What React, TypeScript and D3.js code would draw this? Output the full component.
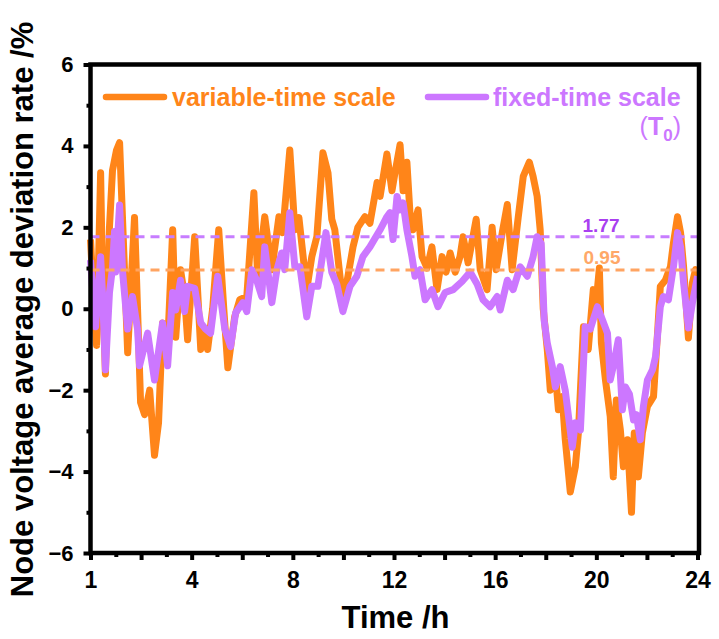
import { useRef, useEffect } from "react";
import { select, scaleLinear, line, axisBottom, axisLeft, range } from "d3";

// variable-time scale (orange), time in h from the first tick
const variableT = [
  0, 0.12, 0.24, 0.4, 0.48, 0.59, 0.75, 0.87, 1.03, 1.15, 1.31, 1.47, 1.58, 1.74, 1.86, 1.98, 2.14,
  2.34, 2.53, 2.69, 2.85, 3.05, 3.25, 3.37, 3.56, 3.72, 3.84, 4.12, 4.36, 4.51, 4.63, 4.83, 5.07,
  5.27, 5.43, 5.7, 5.9, 6.18, 6.46, 6.61, 6.89, 7.17, 7.45, 7.6, 7.88, 8.08, 8.24, 8.55, 8.75, 8.95,
  9.19, 9.39, 9.54, 9.66, 9.98, 10.18, 10.38, 10.57, 10.85, 11.05, 11.33, 11.45, 11.72, 11.92, 12.04,
  12.24, 12.36, 12.51, 12.63, 12.75, 12.95, 13.11, 13.31, 13.5, 13.7, 13.9, 14.06, 14.22, 14.42,
  14.61, 14.73, 14.93, 15.25, 15.41, 15.68, 15.88, 16.04, 16.28, 16.48, 16.67, 16.91, 17.11, 17.35,
  17.5, 17.66, 17.78, 17.9, 18.06, 18.18, 18.38, 18.5, 18.65, 18.77, 18.97, 19.17, 19.29, 19.49,
  19.68, 19.88, 20.0, 20.12, 20.2, 20.36, 20.55, 20.67, 20.79, 20.95, 21.07, 21.23, 21.39, 21.5,
  21.66, 21.82, 22.02, 22.26, 22.42, 22.53, 22.73, 22.93, 23.05, 23.21, 23.33, 23.45, 23.64, 23.8,
  23.92, 24,
];
const variableV = [
  1.7, 0.3, -0.9, 3.34, 0.5, -1.6, 2.0, 3.4, 3.9, 4.08, 1.5, -1.08, 0.3, 2.24, 0.0, -2.3, -2.6,
  -2.0, -3.6, -2.8, -0.35, -0.9, 1.94, -0.7, 0.96, 0.3, -0.76, 1.77, -1.0, -0.5, -1.0, 0.0, 1.94,
  0.0, -1.45, -0.2, 0.22, 0.3, 2.85, 0.8, 2.26, 0.96, 2.26, 1.87, 3.9, 1.94, 2.24, 0.47, 1.28, 1.77,
  3.83, 3.34, 2.2, 1.94, 0.15, 0.8, 1.52, 2.0, 2.26, 2.1, 3.1, 2.76, 3.8, 2.9, 3.34,
  4.03, 2.9, 3.6, 2.36, 1.94, 2.43, 1.28, 1.0, 1.52, 0.47, 1.28, 0.9, 1.37, 0.9,
  1.28, 1.77, 1.13, 2.2, 0.96, 0.47, 2.0, 0.96, 1.87, 2.56, 0.96, 2.24, 3.25, 3.6,
  3.25, 2.76, 1.94, 0.0, -1.0, -2.0, -1.58, -2.48, -2.16, -3.2, -4.5, -3.88, -3.05, -0.44,
  -1.0, 0.47, 0.2, 1.0, -0.84, -1.75, -2.65, -4.13, -2.24, -2.98, -3.88, -3.22, -5.0, -3.05,
  -4.13, -3.05, -2.4, -2.16, -0.6, 0.55, 0.7, 1.03, 1.62, 2.26, 1.87, 1.03, -0.72, 0.64,
  0.96, 0.55,
];

// fixed-time scale (purple)
const fixedT = [
  0, 0.08, 0.2, 0.4, 0.48, 0.59, 0.75, 0.87, 0.95, 0.99, 1.15, 1.27, 1.47, 1.66, 1.86, 1.94, 2.1,
  2.26, 2.53, 2.85, 3.05, 3.25, 3.37, 3.56, 3.72, 3.84, 4.12, 4.36, 4.55, 4.75, 5.03, 5.31, 5.54,
  5.74, 6.02, 6.18, 6.38, 6.57, 6.77, 6.89, 7.17, 7.37, 7.56, 7.68, 7.88, 8.08, 8.28, 8.55, 8.75,
  8.99, 9.31, 9.54, 9.74, 9.98, 10.26, 10.53, 10.77, 11.05, 11.45, 11.72, 11.84, 11.96, 12.12,
  12.24, 12.36, 12.51, 12.71, 12.83, 13.03, 13.23, 13.5, 13.74, 14.02, 14.34, 14.69, 15.01, 15.29,
  15.52, 15.8, 16.08, 16.2, 16.48, 16.71, 16.99, 17.27, 17.5, 17.66, 17.82, 17.94, 18.06, 18.26,
  18.38, 18.57, 18.77, 19.05, 19.17, 19.37, 19.56, 19.76, 20.04, 20.24, 20.44, 20.55, 20.67, 20.87,
  21.03, 21.15, 21.31, 21.47, 21.58, 21.74, 21.86, 22.02, 22.22, 22.34, 22.53, 22.65, 22.85, 23.05,
  23.21, 23.33, 23.45, 23.64, 23.8, 24,
];
const fixedV = [
  1.2, 0.5, -0.44, 1.28, 0.3, -1.5, 0.4, 1.0, 1.9, 0.9, 2.55, 0.9, -0.5, 0.3, -0.5, -1.4, -1.0,
  -0.6, -1.75, -0.35, -1.4, 0.4, -0.03, 0.7, -0.07, 0.55, 0.5, -0.35, -0.5, -0.6, 0.8, -0.5, -0.93,
  -0.1, 0.15, -0.07, 0.96, 0.7, 0.3, 1.52, 0.15, 0.96, 1.37, 0.96, 2.36, 1.03, 1.03, -0.2, 0.55,
  0.55, 1.87, 0.9, 0.6, -0.07, 0.55, 0.8, 1.28, 1.52, 1.94, 2.26, 2.36, 1.7, 2.76,
  2.43, 2.6, 1.94, 1.28, 0.8, 0.96, 0.22, 0.47, 0.05, 0.4, 0.47, 0.67, 0.9, 0.6,
  0.22, 0.05, 0.3, -0.03, 0.7, 0.47, 1.03, 0.8, 1.28, 1.77, 1.6, -0.3, -0.84, -1.42,
  -1.92, -1.42, -2.0, -3.4, -2.8, -2.98, -0.44, -0.5, 0.05, -0.27, -0.6, -1.75, -1.42, -0.76,
  -2.48, -1.92, -2.1, -2.73, -2.6, -3.22, -2.4, -1.75, -1.5, -1.18, 0.05, 0.3, 0.22, 1.03,
  1.87, 1.52, 0.64, -0.47, 0.15, 0.8,
];

const variableMean = 0.95;
const fixedMean = 1.77;

const xTickValues = [0, 4, 8, 12, 16, 20, 24];
const xTickLabels = ["1", "4", "8", "12", "16", "20", "24"];
const yTickValues = [-6, -4, -2, 0, 2, 4, 6];

const ORANGE = "#ff8519";
const PURPLE = "#cc77ff";
const FONT = "Arial, 'Liberation Sans', sans-serif";

const left = 90.5;
const right = 699;
const top = 64.5;
const bottom = 553;

const x = scaleLinear().domain([0, 24]).range([left, 697.5]);
const y = scaleLinear().domain([-6, 6]).range([bottom, top]);

export default function App() {
  const xMajorRef = useRef<SVGGElement>(null);
  const xMinorRef = useRef<SVGGElement>(null);
  const yMajorRef = useRef<SVGGElement>(null);
  const yMinorRef = useRef<SVGGElement>(null);

  useEffect(() => {
    const style = (g: any, size: number) => {
      g.select(".domain").remove();
      g.selectAll("line").attr("stroke", "#000").attr("stroke-width", 4);
      g.selectAll("text")
        .attr("font-size", size)
        .attr("font-weight", "bold")
        .attr("font-family", FONT)
        .attr("fill", "#000");
    };

    const xm = select(xMajorRef.current!);
    xm.call(
      axisBottom(x)
        .tickValues(range(0, 25, 2))
        .tickSize(7)
        .tickPadding(12)
        .tickFormat((d) => {
          const i = xTickValues.indexOf(+d);
          return i >= 0 ? xTickLabels[i] : "";
        }) as any
    );
    style(xm, 23);

    const xn = select(xMinorRef.current!);
    xn.call(axisBottom(x).tickValues(range(1, 24, 2)).tickSize(4).tickFormat(() => "") as any);
    style(xn, 23);

    const ym = select(yMajorRef.current!);
    ym.call(axisLeft(y).tickValues(yTickValues).tickSize(7).tickPadding(10) as any);
    style(ym, 22);

    const yn = select(yMinorRef.current!);
    yn.call(axisLeft(y).tickValues(range(-5, 6, 2)).tickSize(4).tickFormat(() => "") as any);
    style(yn, 22);
  }, []);

  const variableLine = line<number>()
    .x((_, i) => x(variableT[i]))
    .y((d) => y(d))(variableV);
  const fixedLine = line<number>()
    .x((_, i) => x(fixedT[i]))
    .y((d) => y(d))(fixedV);

  return (
    <svg
      width={719}
      height={639}
      style={{ position: "absolute", left: 0, top: 0, background: "#fff" }}
      fontFamily={FONT}
    >
      <path d={variableLine ?? ""} fill="none" stroke={ORANGE} strokeWidth={7} strokeLinejoin="round" />
      <path d={fixedLine ?? ""} fill="none" stroke={PURPLE} strokeWidth={7} strokeLinejoin="round" />

      <line x1={left} x2={right} y1={y(fixedMean)} y2={y(fixedMean)} stroke="#c77dff" strokeWidth={3} strokeDasharray="9 6" />
      <line x1={left} x2={right} y1={y(variableMean)} y2={y(variableMean)} stroke="#ffa462" strokeWidth={3} strokeDasharray="9 6" />
      <text x={601} y={y(fixedMean) - 5} textAnchor="middle" fontSize={19} fontWeight="bold" fill="#a93ff0">
        {fixedMean.toFixed(2)}
      </text>
      <text x={602} y={y(variableMean) - 6} textAnchor="middle" fontSize={19} fontWeight="bold" fill="#ffa868">
        {variableMean.toFixed(2)}
      </text>

      <rect x={left} y={top} width={right - left} height={bottom - top} fill="none" stroke="#000" strokeWidth={4.5} />
      <g ref={xMajorRef} transform={`translate(0,${bottom})`} />
      <g ref={xMinorRef} transform={`translate(0,${bottom})`} />
      <g ref={yMajorRef} transform={`translate(${left},0)`} />
      <g ref={yMinorRef} transform={`translate(${left},0)`} />

      {/* legend */}
      <line x1={106} x2={164} y1={97} y2={97} stroke={ORANGE} strokeWidth={6.5} strokeLinecap="round" />
      <text x={172} y={106} fontSize={25} fontWeight="bold" fill={ORANGE}>
        variable-time scale
      </text>
      <line x1={428} x2={486} y1={97} y2={97} stroke={PURPLE} strokeWidth={6.5} strokeLinecap="round" />
      <text x={493} y={106} fontSize={25} fontWeight="bold" fill={PURPLE}>
        fixed-time scale
      </text>
      <text x={681} y={135} textAnchor="end" fontSize={25} fill={PURPLE}>
        <tspan>(</tspan>
        <tspan fontWeight="bold">T</tspan>
        <tspan fontWeight="bold" fontSize={17} dy={6}>0</tspan>
        <tspan dy={-6}>)</tspan>
      </text>

      {/* axis titles */}
      <text x={395.5} y={628} textAnchor="middle" fontSize={31} fontWeight="bold">
        Time /h
      </text>
      <text
        transform={`translate(33,${309.5}) rotate(-90)`}
        textAnchor="middle"
        fontSize={31}
        fontWeight="bold"
      >
        Node voltage average deviation rate /%
      </text>
    </svg>
  );
}
